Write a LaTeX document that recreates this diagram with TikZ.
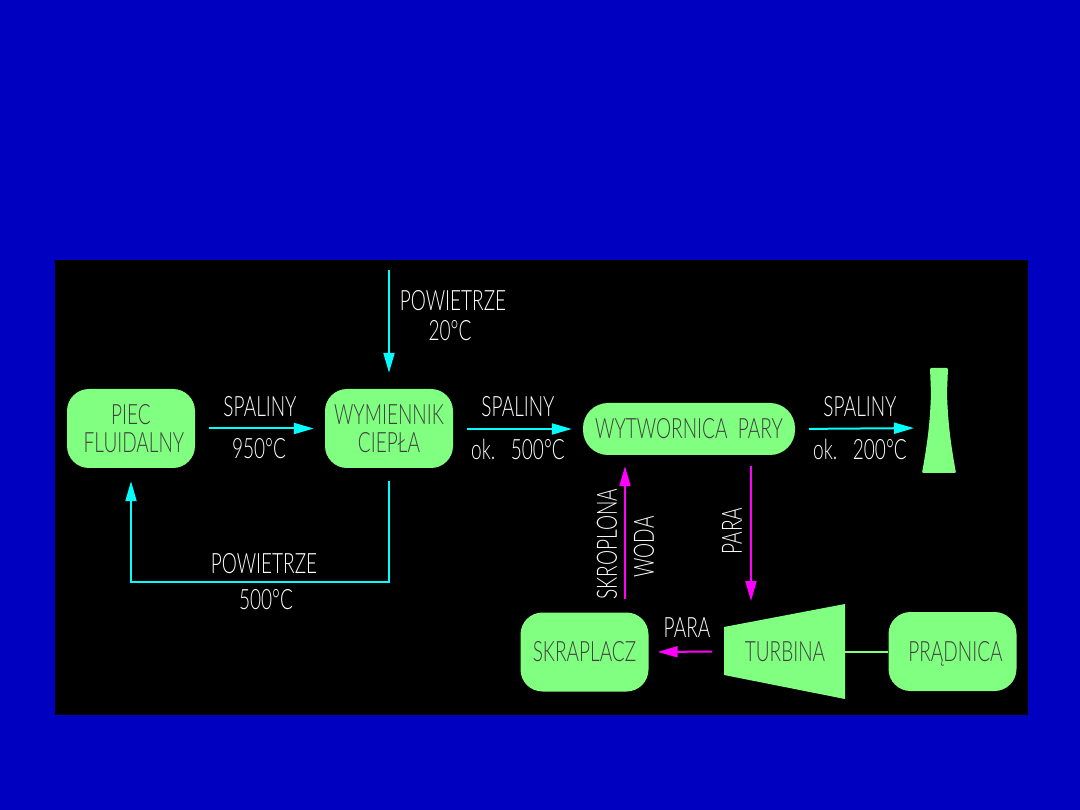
\documentclass[tikz,border=0pt]{standalone}
\usepackage{fontspec}
\usetikzlibrary{arrows.meta}
\newfontfamily\cadfont[UprightFont=* Light, FakeStretch=0.68]{Lato}
\definecolor{tlo}{RGB}{0,0,192}
\definecolor{ziel}{RGB}{128,255,128}
\definecolor{cyjan}{RGB}{0,255,255}
\definecolor{roz}{RGB}{255,0,255}
\tikzset{
    blok/.style={fill=ziel, rounded corners=22pt, inner sep=0pt, minimum width=128pt, minimum height=79pt, align=center, text=black!75, font=\cadfont\fontsize{28}{28}\selectfont},
    opis/.style={text=white, inner sep=0pt, font=\cadfont\fontsize{28}{28}\selectfont},
    gaz/.style={cyjan, line width=2pt, -{Triangle[length=20pt,width=11pt]}},
    woda/.style={roz, line width=2pt, -{Triangle[length=20pt,width=11pt]}}
}
\begin{document}
\begin{tikzpicture}[x=1pt, y=-1pt]
    \fill[tlo] (0,0) rectangle (1080,810);
    \fill[black] (55,260) rectangle (1028,715);

    % Bloki
    \node[blok] (piec) at (131,428.5) {PIEC\\\hspace{6pt}FLUIDALNY};
    \node[blok] (wym) at (389,428.5) {WYMIENNIK\\CIEPŁA};
    \node[blok, minimum width=212pt, minimum height=52pt, rounded corners=25pt] (wyt) at (689,429) {WYTWORNICA\ \ PARY};
    \node[blok] (skr) at (584.5,652) {SKRAPLACZ};
    \node[blok] (prad) at (952.5,651.5) {\hspace{6pt}\raisebox{0pt}[\height][0pt]{PRĄDNICA}};

    % Turbina
    \fill[ziel] (724,627) -- (845,604) -- (845,699) -- (724,675) -- cycle;
    \node[blok, fill=none, minimum width=0pt, minimum height=0pt] (turb) at (785,652) {TURBINA};
    \coordinate (turbl) at (724,651.5);
    \coordinate (turbp) at (845,651.5);
    \coordinate (turbg) at (751,622);

    % Komin
    \fill[ziel, rounded corners=1pt] (930,368) -- (948,368) -- (947,393) .. controls (948,425) and (951,445) .. (956,473) -- (922,473) .. controls (927,445) and (930,425) .. (931,393) -- cycle;
    \coordinate (komin) at (926,428);

    % Powietrze
    \coordinate (wlot) at (389,270);
    \coordinate (zwrot) at (260,582);
    \draw[gaz, shorten >=16pt] (wlot) -- (wym.north);
    \draw[gaz, shorten <=13pt, shorten >=13pt] (wym.south) -- (wym.south |- zwrot) -- (piec.south |- zwrot) -- (piec.south);
    \node[opis] (pow1) at (453,301) {POWIETRZE};
    \node[opis] (t20) at (450,331) {20°C};
    \node[opis] (pow2) at (264,564) {POWIETRZE};
    \node[opis] (t500) at (266,600) {500°C};

    % Spaliny
    \draw[gaz, shorten <=14pt, shorten >=11pt] (piec.east) -- (wym.west);
    \draw[gaz, shorten <=14pt, shorten >=11pt] (wym.east |- wyt) -- (wyt.west);
    \draw[gaz, shorten <=14pt, shorten >=12pt] (wyt.east) -- (komin);
    \node[opis] (sp1) at (260,407) {SPALINY};
    \node[opis] (t950) at (259,449) {950°C};
    \node[opis] (sp2) at (518,407) {SPALINY};
    \node[opis] (ok500) at (518,449) {ok.\ \ \ 500°C};
    \node[opis] (sp3) at (860,407) {SPALINY};
    \node[opis] (ok200) at (860,449) {ok.\ \ \ 200°C};

    % Para i woda
    \coordinate (skrop) at (625,500);
    \draw[woda, shorten <=13pt, shorten >=11pt] (skrop |- skr.north) -- (skrop |- wyt.south);
    \draw[woda, shorten <=11pt, shorten >=21pt] (turbg |- wyt.south) -- (turbg);
    \draw[woda, shorten <=12pt, shorten >=9pt] (turbl) -- (skr.east);
    \node[opis, rotate=90] (skro) at (607,544) {SKROPLONA};
    \node[opis, rotate=90] (wod) at (644,547) {WODA};
    \node[opis, rotate=90] (par1) at (732,531) {PARA};
    \node[opis] (par2) at (687,628) {PARA};

    % Wal
    \draw[ziel, line width=2pt] (turbp) -- (prad.west);
\end{tikzpicture}
\end{document}
